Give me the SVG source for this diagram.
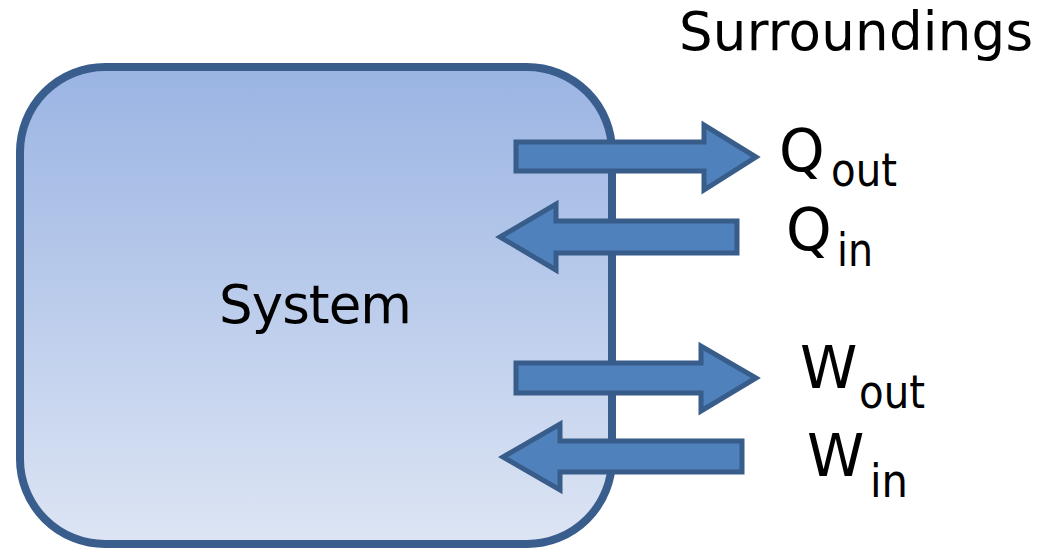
<svg xmlns="http://www.w3.org/2000/svg" width="1040" height="550" viewBox="0 0 1040 550">
<defs>
<linearGradient id="boxGrad" x1="0" y1="0" x2="0" y2="1">
<stop offset="0" stop-color="#9AB4E3"/>
<stop offset="1" stop-color="#DDE5F4"/>
</linearGradient>
<style>
.lbl{font-family:"DejaVu Sans","Liberation Sans",sans-serif;fill:#000;}
.big{font-size:53px;}
.main{font-size:58px;}
.sub{font-size:46px;}
.arrow{fill:#4F81BD;stroke:#385D8A;stroke-width:5;stroke-linejoin:miter;}
</style>
</defs>
<rect width="1040" height="550" fill="#FFFFFF"/>
<g id="system">
<rect x="20" y="67" width="592" height="477" rx="85" ry="85" fill="url(#boxGrad)" stroke="#395E8E" stroke-width="8"/>
<text class="lbl big" x="219" y="323" textLength="193">System</text>
</g>
<g id="surroundings">
<text class="lbl big" x="679" y="50" textLength="354">Surroundings</text>
</g>
<g id="connectors">
<path id="q-out" class="arrow" d="M516,142 H704 V125 L756,157 L704,190 V171 H516 Z"/>
<path id="q-in" class="arrow" d="M737,221 H556 V204 L500,237 L556,270 V253 H737 Z"/>
<path id="w-out" class="arrow" d="M516,363 H701 V346 L756,378 L701,411 V393 H516 Z"/>
<path id="w-in" class="arrow" d="M742,441 H560 V424 L503,457 L560,490 V472 H742 Z"/>
</g>
<g id="label-qout">
<text class="lbl main" x="779" y="171">Q</text>
<text class="lbl sub" x="831" y="186" textLength="66" lengthAdjust="spacingAndGlyphs">out</text>
</g>
<g id="label-qin">
<text class="lbl main" x="786" y="250">Q</text>
<text class="lbl sub" x="837" y="266" textLength="36" lengthAdjust="spacingAndGlyphs">in</text>
</g>
<g id="label-wout">
<text class="lbl main" x="800" y="388">W</text>
<text class="lbl sub" x="859" y="408" textLength="66" lengthAdjust="spacingAndGlyphs">out</text>
</g>
<g id="label-win">
<text class="lbl main" x="807" y="476">W</text>
<text class="lbl sub" x="870" y="497" textLength="38" lengthAdjust="spacingAndGlyphs">in</text>
</g>
</svg>
